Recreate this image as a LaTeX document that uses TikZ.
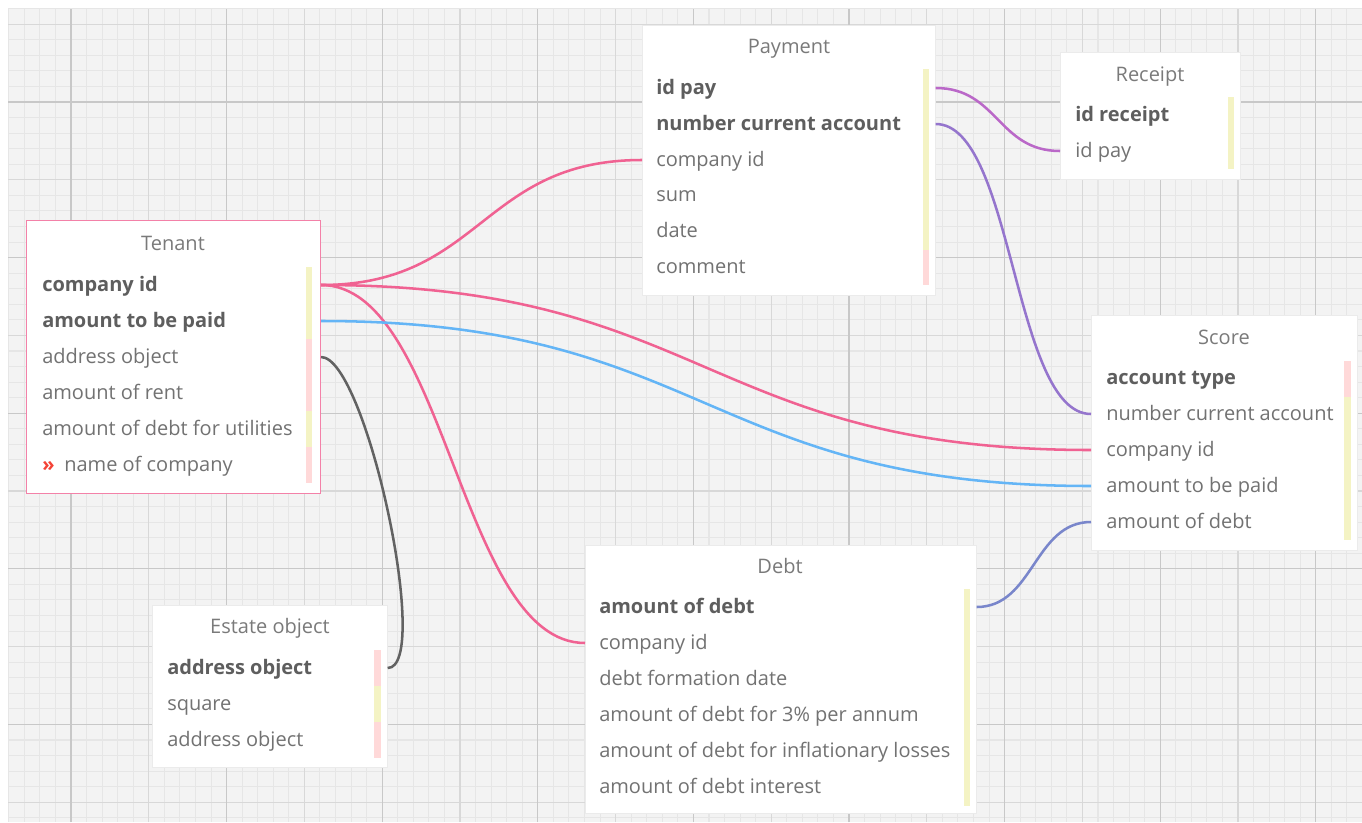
\documentclass[tikz,border=0pt]{standalone}
\usepackage{fontspec}
\setmainfont{Open Sans}
\usepackage{tikz}
\usetikzlibrary{positioning}
\usetikzlibrary{shadows}
\definecolor{canvas}{HTML}{F3F3F3}
\definecolor{gridminor}{HTML}{E6E6E6}
\definecolor{gridmid}{HTML}{D8D8D8}
\definecolor{gridmajor}{HTML}{C8C8C8}
\definecolor{fldgrey}{HTML}{727272}
\definecolor{keygrey}{HTML}{5E5E5E}
\definecolor{titlegrey}{HTML}{7A7A7A}
\definecolor{barpink}{HTML}{FFD9D9}
\definecolor{baryellow}{HTML}{F4F3C4}
\definecolor{relpink}{HTML}{F06292}
\definecolor{relblue}{HTML}{64B5F6}
\definecolor{relgrey}{HTML}{626262}
\definecolor{relorchid}{HTML}{BA68C8}
\definecolor{relviolet}{HTML}{9575CD}
\definecolor{relindigo}{HTML}{7986CB}
\definecolor{markred}{HTML}{F44336}
\tikzset{tbl/.style={fill=white, draw=black!8, line width=0.5pt, anchor=north west, inner sep=0pt,
    drop shadow={shadow xshift=0.6pt, shadow yshift=-0.6pt, opacity=0.18}}}
\tikzset{tbltitle/.style={text=titlegrey, font=\fontsize{15pt}{18pt}\selectfont, inner sep=0pt,
    text height=2.1ex, text depth=0.4ex}}
\tikzset{fld/.style={anchor=west, text=fldgrey, font=\fontsize{15pt}{18pt}\selectfont, inner sep=0pt,
    text height=2.1ex, text depth=0.4ex}}
\tikzset{key/.style={fld, text=keygrey, font=\fontsize{15pt}{18pt}\selectfont\bfseries}}
\tikzset{rel/.style={line width=1.9pt}}

\begin{document}
\begin{tikzpicture}[x=0.75pt, y=-0.75pt]
    \useasboundingbox (0,0) rectangle (1362,822);
    % canvas with its grid
    \fill[canvas] (9,9) rectangle (1362,822);
    \begin{scope}[shift={(71,102)}]
        \draw[gridminor, line width=0.8pt, step=11.67pt] (-63,720) grid (1291,-93.5);
        \draw[gridmid, line width=0.9pt, step=58.35pt] (-63,720) grid (1291,-93.5);
        \draw[gridmajor, line width=0.9pt, step=116.7pt] (-63,720) grid (1291,-93.5);
    \end{scope}

    % Tenant
    \node[tbl, draw=relpink!80, line width=0.8pt, minimum width=220.5pt, minimum height=204.75pt] (tenant) at (26,220) {};
    \node[tbltitle] (tenant-title) at (173,244) {Tenant};
    \node[key] (t-cid) at (42,285) {company id};
    \node[key] (t-paid) at (42,321) {amount to be paid};
    \node[fld] (t-addr) at (42,357) {address object};
    \node[fld] (t-rent) at (42,393) {amount of rent};
    \node[fld] (t-util) at (42,429) {amount of debt for utilities};
    \node[fld, text=markred, font=\fontsize{15pt}{18pt}\selectfont\bfseries] (t-mark) at (42,465) {»};
    \node[fld] (t-name) at (64,465) {name of company};
    \fill[baryellow] (306,267) rectangle (312,339);
    \fill[barpink] (306,339) rectangle (312,411);
    \fill[baryellow] (306,411) rectangle (312,447);
    \fill[barpink] (306,447) rectangle (312,483);

    % Payment
    \node[tbl, minimum width=219.75pt, minimum height=202.5pt] (payment) at (642,25) {};
    \node[tbltitle] (payment-title) at (789,47) {Payment};
    \node[key] (p-id) at (656,88) {id pay};
    \node[key] (p-acc) at (656,124) {number current account};
    \node[fld] (p-cid) at (656,160) {company id};
    \node[fld] (p-sum) at (656,195) {sum};
    \node[fld] (p-date) at (656,231) {date};
    \node[fld] (p-comm) at (656,267) {comment};
    \fill[baryellow] (923,69) rectangle (929,250);
    \fill[barpink] (923,250) rectangle (929,285);

    % Receipt
    \node[tbl, minimum width=135pt, minimum height=95.25pt] (receipt) at (1060,52) {};
    \node[tbltitle] (receipt-title) at (1150,75) {Receipt};
    \node[key] (r-id) at (1075,115) {id receipt};
    \node[fld] (r-pay) at (1075,151) {id pay};
    \fill[baryellow] (1228,97) rectangle (1234,169);

    % Score
    \node[tbl, minimum width=199.5pt, minimum height=176.25pt] (score) at (1091,315) {};
    \node[tbltitle] (score-title) at (1224,338) {Score};
    \node[key] (s-type) at (1106,378) {account type};
    \node[fld] (s-acc) at (1106,414) {number current account};
    \node[fld] (s-cid) at (1106,450) {company id};
    \node[fld] (s-paid) at (1106,486) {amount to be paid};
    \node[fld] (s-debt) at (1106,522) {amount of debt};
    \fill[barpink] (1344,361) rectangle (1351,397);
    \fill[baryellow] (1344,397) rectangle (1351,540);

    % Debt
    \node[tbl, minimum width=293.25pt, minimum height=201pt] (debt) at (585,545) {};
    \node[tbltitle] (debt-title) at (780,567) {Debt};
    \node[key] (d-sum) at (599,607) {amount of debt};
    \node[fld] (d-cid) at (599,643) {company id};
    \node[fld] (d-date) at (599,679) {debt formation date};
    \node[fld] (d-pct) at (599,715) {amount of debt for 3\% per annum};
    \node[fld] (d-infl) at (599,751) {amount of debt for inflationary losses};
    \node[fld] (d-int) at (599,787) {amount of debt interest};
    \fill[baryellow] (964,589) rectangle (970,806);

    % Estate object
    \node[tbl, minimum width=176.25pt, minimum height=121.5pt] (estate) at (152,605) {};
    \node[tbltitle] (estate-title) at (270,627) {Estate object};
    \node[key] (e-addr) at (167,668) {address object};
    \node[fld] (e-sq) at (167,704) {square};
    \node[fld] (e-addr2) at (167,740) {address object};
    \fill[barpink] (374,650) rectangle (381,686);
    \fill[baryellow] (374,686) rectangle (381,722);
    \fill[barpink] (374,722) rectangle (381,758);

    % relations
    \draw[rel, relpink] (tenant.east |- t-cid) .. controls +(161,0) and +(-161,0) .. (payment.west |- p-cid);
    \draw[rel, relpink] (tenant.east |- t-cid) .. controls +(385,0) and +(-385,0) .. (score.west |- s-cid);
    \draw[rel, relpink] (tenant.east |- t-cid) .. controls +(125,0) and +(-125,0) .. (debt.west |- d-cid);
    \draw[rel, relblue] (tenant.east |- t-paid) .. controls +(385,0) and +(-385,0) .. (score.west |- s-paid);
    \draw[rel, relgrey] (tenant.east |- t-addr) .. controls +(45,0) and +(45,0) .. (estate.east |- e-addr);
    \draw[rel, relorchid] (payment.east |- p-id) .. controls +(62,0) and +(-62,0) .. (receipt.west |- r-pay);
    \draw[rel, relviolet] (payment.east |- p-acc) .. controls +(78,0) and +(-78,0) .. (score.west |- s-acc);
    \draw[rel, relindigo] (debt.east |- d-sum) .. controls +(57,0) and +(-57,0) .. (score.west |- s-debt);
\end{tikzpicture}
\end{document}
